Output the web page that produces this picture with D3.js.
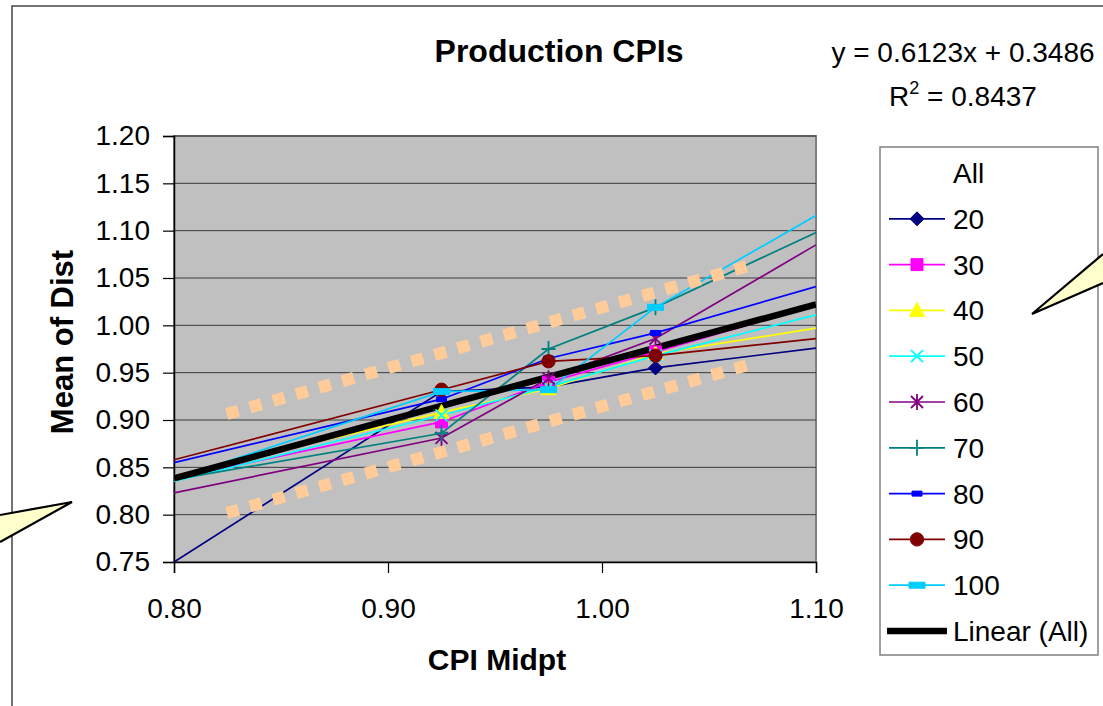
<!DOCTYPE html>
<html>
<head>
<meta charset="utf-8">
<script src="https://cdn.jsdelivr.net/npm/d3@7/dist/d3.min.js"></script>
<style>
  body { margin: 0; background: #fff; }
  text { font-family: Arial, "Liberation Sans", sans-serif; fill: #000; }
</style>
</head>
<body>
<div id="chart"></div>
<script>
// x positions of each series (only the middle three carry markers)
var cpiMid = [0.80, 0.925, 0.975, 1.025, 1.10];
var markedIdx = [1, 2, 3];

var seriesNames = ["20", "30", "40", "50", "60", "70", "80", "90", "100"];
var seriesColors = ["#000080", "#FF00FF", "#FFFF00", "#00FFFF", "#800080", "#008080", "#0000FF", "#800000", "#00CCFF"];
var seriesMarkers = ["diamond", "square", "triangle", "x", "star", "plus", "bar", "circle", "wideBar"];

var s20  = [0.750, 0.930, 0.935, 0.955, 0.976];
var s30  = [0.838, 0.898, 0.940, 0.972, 1.021];
var s40  = [0.841, 0.908, 0.933, 0.970, 0.997];
var s50  = [0.835, 0.905, 0.935, 0.968, 1.011];
var s60  = [0.823, 0.881, 0.944, 0.986, 1.085];
var s70  = [0.837, 0.886, 0.975, 1.019, 1.098];
var s80  = [0.855, 0.922, 0.965, 0.992, 1.041];
var s90  = [0.858, 0.932, 0.962, 0.968, 0.986];
var s100 = [0.838, 0.930, 0.932, 1.019, 1.116];
var seriesValues = [s20, s30, s40, s50, s60, s70, s80, s90, s100];

// linear trend for "All"
var trendSlope = 0.6123, trendIntercept = 0.3486;

// peach dotted bands drawn over the chart (data units)
var bandX = [0.8247, 1.0684];
var bandUpper = [0.9064, 1.0629];
var bandLower = [0.8018, 0.9582];

var yTicks = [0.75, 0.80, 0.85, 0.90, 0.95, 1.00, 1.05, 1.10, 1.15, 1.20];
var xTicks = [0.80, 0.90, 1.00, 1.10];

var W = 1103, H = 706;
var svg = d3.select("#chart").append("svg").attr("width", W).attr("height", H);

// chart border
svg.append("path").attr("d", "M12," + H + "V6H" + W)
  .attr("fill", "none").attr("stroke", "#444").attr("stroke-width", 1.5);

var x = d3.scaleLinear().domain([0.80, 1.10]).range([174, 816]);
var y = d3.scaleLinear().domain([0.75, 1.20]).range([562, 136]);

svg.append("rect")
  .attr("x", x(0.80)).attr("y", y(1.20))
  .attr("width", x(1.10) - x(0.80)).attr("height", y(0.75) - y(1.20))
  .attr("fill", "#C0C0C0").attr("stroke", "#808080").attr("stroke-width", 2);

svg.append("clipPath").attr("id", "plotClip").append("rect")
  .attr("x", x(0.80)).attr("y", y(1.20))
  .attr("width", x(1.10) - x(0.80)).attr("height", y(0.75) - y(1.20));

// gridlines
svg.selectAll("line.grid").data(yTicks.slice(1)).enter().append("line")
  .attr("class", "grid")
  .attr("x1", x(0.80)).attr("x2", x(1.10))
  .attr("y1", function(d) { return y(d); }).attr("y2", function(d) { return y(d); })
  .attr("stroke", "#3a3a3a").attr("stroke-width", 1);

var yAxis = svg.append("g").attr("transform", "translate(" + x(0.80) + ",0)")
  .call(d3.axisLeft(y).tickValues(yTicks).tickFormat(d3.format(".2f")).tickSize(11).tickPadding(13));
var xAxis = svg.append("g").attr("transform", "translate(0," + y(0.75) + ")")
  .call(d3.axisBottom(x).tickValues(xTicks).tickFormat(d3.format(".2f")).tickSize(11).tickPadding(25));
[xAxis, yAxis].forEach(function(g) {
  g.select(".domain").attr("stroke", "#000").attr("stroke-width", 1.5);
  g.selectAll(".tick line").attr("stroke", "#000").attr("stroke-width", 1.2);
  g.selectAll(".tick text").attr("font-size", 28).attr("font-family", "Arial, 'Liberation Sans', sans-serif").attr("fill", "#000");
});

function markerPath(kind) {
  switch (kind) {
    case "diamond": return "M0,-7L7,0L0,7L-7,0Z";
    case "square": return "M-6,-6H6V6H-6Z";
    case "triangle": return "M0,-8L7.5,6H-7.5Z";
    case "circle": return d3.symbol(d3.symbolCircle, 140)();
    case "x": return "M-6,-6L6,6M-6,6L6,-6";
    case "star": return "M-6,-6L6,6M-6,6L6,-6M0,-8V8";
    case "plus": return "M-7,0H7M0,-8V8";
    case "bar": return "M-5,-2.5H5V2.5H-5Z";
    case "wideBar": return "M-8,-3H8V3H-8Z";
  }
}
function isOpen(kind) { return kind === "x" || kind === "star" || kind === "plus"; }

function drawMarker(g, kind, color, tx, ty) {
  g.append("path").attr("d", markerPath(kind))
    .attr("transform", "translate(" + tx + "," + ty + ")")
    .attr("fill", isOpen(kind) ? "none" : color)
    .attr("stroke", color).attr("stroke-width", isOpen(kind) ? 1.8 : 1);
}

var line = d3.line()
  .x(function(d, i) { return x(cpiMid[i]); })
  .y(function(d) { return y(d); });

var plot = svg.append("g").attr("clip-path", "url(#plotClip)");
seriesValues.forEach(function(vals, si) {
  plot.append("path").datum(vals).attr("d", line)
    .attr("fill", "none").attr("stroke", seriesColors[si]).attr("stroke-width", 1.7);
});

// trend line
var trendPts = [0.80, 1.10].map(function(v) { return [x(v), y(trendSlope * v + trendIntercept)]; });
plot.append("path").attr("d", d3.line()(trendPts))
  .attr("fill", "none").attr("stroke", "#000").attr("stroke-width", 6.5);

seriesValues.forEach(function(vals, si) {
  markedIdx.forEach(function(i) {
    drawMarker(plot, seriesMarkers[si], seriesColors[si], x(cpiMid[i]), y(vals[i]));
  });
});

// peach dotted bands
[bandUpper, bandLower].forEach(function(b) {
  svg.append("line")
    .attr("x1", x(bandX[0])).attr("y1", y(b[0]))
    .attr("x2", x(bandX[1])).attr("y2", y(b[1]))
    .attr("stroke", "#FFCC99").attr("stroke-width", 12)
    .attr("stroke-dasharray", "12 12");
});

// titles
svg.append("text").attr("x", 559).attr("y", 62).attr("text-anchor", "middle")
  .attr("font-size", 32).attr("font-weight", "bold").text("Production CPIs");
svg.append("text").attr("x", 497).attr("y", 670).attr("text-anchor", "middle")
  .attr("font-size", 30).attr("font-weight", "bold").text("CPI Midpt");
svg.append("text").attr("transform", "translate(73,342) rotate(-90)").attr("text-anchor", "middle")
  .attr("font-size", 31).attr("font-weight", "bold").text("Mean of Dist");

// trend equation
svg.append("text").attr("x", 963).attr("y", 62).attr("text-anchor", "middle")
  .attr("font-size", 28).text("y = " + trendSlope + "x + " + trendIntercept);
var r2 = svg.append("text").attr("x", 963).attr("y", 106).attr("text-anchor", "middle").attr("font-size", 28);
r2.append("tspan").text("R");
r2.append("tspan").attr("font-size", 18).attr("dy", -12).text("2");
r2.append("tspan").attr("dy", 12).text(" = 0.8437");

// legend
var leg = svg.append("g");
leg.append("rect").attr("x", 880).attr("y", 147).attr("width", 218).attr("height", 508)
  .attr("fill", "#fff").attr("stroke", "#808080").attr("stroke-width", 1.5);
var legLabels = ["All"].concat(seriesNames).concat(["Linear (All)"]);
legLabels.forEach(function(lbl, i) {
  var base = 183 + i * 45.8;
  leg.append("text").attr("x", 953).attr("y", base).attr("font-size", 28).text(lbl);
  var ly = base - 10;
  if (i >= 1 && i <= seriesNames.length) {
    var si = i - 1;
    leg.append("line").attr("x1", 889).attr("x2", 945).attr("y1", ly).attr("y2", ly)
      .attr("stroke", seriesColors[si]).attr("stroke-width", 1.7);
    drawMarker(leg, seriesMarkers[si], seriesColors[si], 917, ly);
  } else if (i === legLabels.length - 1) {
    leg.append("line").attr("x1", 887).attr("x2", 947).attr("y1", ly).attr("y2", ly)
      .attr("stroke", "#000").attr("stroke-width", 6.5);
  }
});

// callout pointers
var callouts = [
  [[0, 515], [72, 502], [0, 542]],
  [[1103, 254], [1032, 314], [1103, 283]]
];
callouts.forEach(function(pts) {
  svg.append("path").attr("d", "M" + pts.join("L"))
    .attr("fill", "#FFFFCC").attr("stroke", "#000").attr("stroke-width", 2.2)
    .attr("stroke-linejoin", "miter");
});
</script>
</body>
</html>
